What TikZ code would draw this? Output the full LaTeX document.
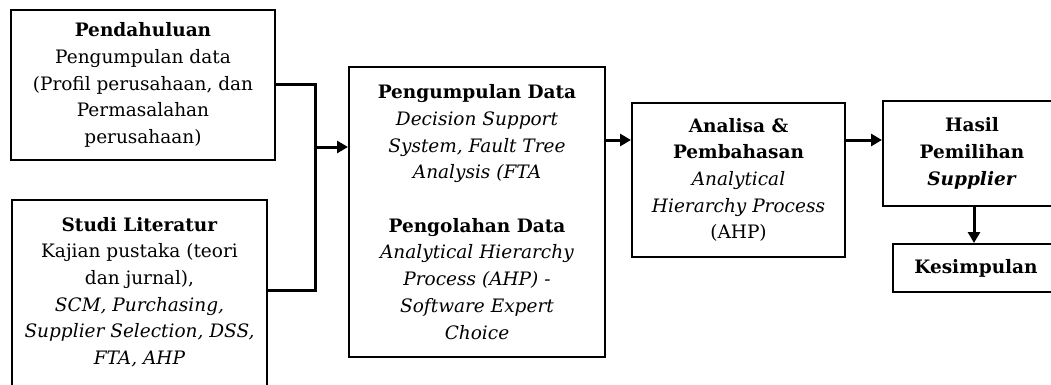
\documentclass[tikz,border=0pt]{standalone}
\usepackage{fontspec}
\setmainfont{DejaVu Serif}
\usetikzlibrary{arrows.meta}
\begin{document}
\begin{tikzpicture}[x=1pt,y=-1pt,
  box/.style={draw, line width=2pt, align=center, inner sep=0pt,
    font=\fontsize{18.5}{26.7}\selectfont},
  conn/.style={line width=3pt},
  arr/.style={conn, -{Triangle[length=11pt,width=12pt]}}]
\useasboundingbox (0,0) rectangle (1051,385);
\clip (0,0) rectangle (1051,385);
\node[box, minimum width=264, minimum height=150] (b1) at (143,85)
  {\textbf{Pendahuluan}\\Pengumpulan data\\(Profil perusahaan, dan\\Permasalahan\\perusahaan)};
\node[box, anchor=north west] (b2) at (11,199)
  {\parbox[t][230pt][t]{255pt}{\centering\rule{0pt}{31pt}\textbf{Studi Literatur}\\Kajian pustaka (teori\\dan jurnal),\\\textit{SCM, Purchasing,}\\\textit{Supplier Selection, DSS,}\\\textit{FTA, AHP}}};
\node[box, minimum width=256, minimum height=290] (b3) at (477,212)
  {\textbf{Pengumpulan Data}\\\textit{Decision Support}\\\textit{System, Fault Tree}\\\textit{Analysis (FTA}\\[26.7pt]\textbf{Pengolahan Data}\\\textit{Analytical Hierarchy}\\\textit{Process (AHP) -}\\\textit{Software Expert}\\\textit{Choice}};
\node[box, minimum width=213, minimum height=154] (b4) at (738.5,180)
  {\textbf{Analisa \&}\\\textbf{Pembahasan}\\\textit{Analytical}\\\textit{Hierarchy Process}\\(AHP)};
\node[box, minimum width=178, minimum height=105] (b5) at (972,153.5)
  {\textbf{Hasil}\\\textbf{Pemilihan}\\\textbf{\textit{Supplier}}};
\node[box, minimum width=166, minimum height=48] (b6) at (976,268)
  {\textbf{Kesimpulan}};
\coordinate (jt) at (315,85);
\coordinate (jm) at (315,147);
\coordinate (jb) at (315,290);
\coordinate (r1) at (0,140);
\coordinate (c5) at (974,0);
\draw[conn] (b1.east) -- (jt) -- (jb) -- (jb -| b2.east);
\draw[arr] (jm) -- (jm -| b3.west);
\draw[arr] (b3.east |- r1) -- (b4.west |- r1);
\draw[arr] (b4.east |- r1) -- (b5.west |- r1);
\draw[arr] (b5.south -| c5) -- (b6.north -| c5);
\end{tikzpicture}
\end{document}
